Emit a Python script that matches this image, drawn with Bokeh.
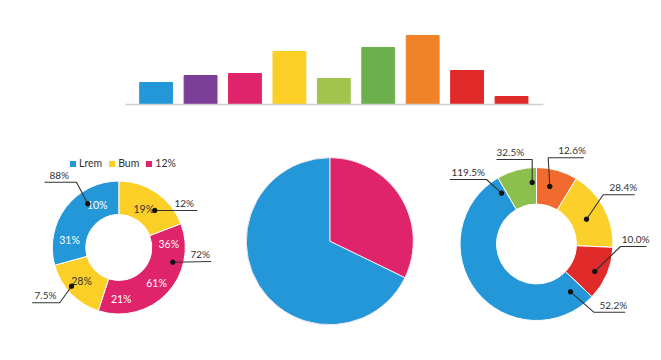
import numpy as np
from bokeh.plotting import figure
from bokeh.models import Range1d, ColumnDataSource, Legend, LegendItem, FixedTicker
from bokeh.layouts import column, row
from bokeh.embed import file_html
from bokeh.resources import INLINE
from bokeh.core.properties import value

# ---------------- data ----------------
bar_positions = [1, 2, 3, 4, 5, 6, 7, 8, 9]
bar_values = [22, 29, 31, 53, 26, 57, 69, 34, 8]
bar_colors = ["#2397d8", "#7c3f98", "#e0246b", "#fccf26", "#a3c44c",
              "#6cb04d", "#f0832a", "#e02a2a", "#e02a2a"]

BLUE, PINK, YELLOW = "#2397d8", "#e0246b", "#fccf26"

left_shares = [19.2, 35.8, 15.7, 29.3]
left_colors = [YELLOW, PINK, YELLOW, BLUE]
left_legend_labels = ["Lrem", "Bum", "12%"]
left_legend_slices = [3, 0, 1]
left_inner_labels = ["10%", "31%", "19%", "36%", "61%", "21%", "28%"]
left_inner_dx = [-21.6, -49.3, 25.0, 50.0, 37.7, 2.4, -37.3]
left_inner_dy = [42.7, 7.7, 38.7, 3.7, -35.7, -51.3, -33.0]
left_inner_colors = ["white", "white", "#333333", "white", "white", "white", "#333333"]
left_callout_labels = ["88%", "12%", "72%", "7.5%"]
left_callout_xs = [[-31, -42.3, -74.3], [36, 78.4], [54, 92.4], [-47.3, -59, -86.6]]
left_callout_ys = [[43.7, 65.3, 65.3], [37, 37], [-14.7, -14.0], [-38.7, -55.3, -55.3]]
left_callout_tx = [-69.3, 55.7, 71.7, -84.3]
left_callout_ty = [66.8, 38.5, -12.5, -53.8]

mid_shares = [32.2, 67.8]
mid_colors = [PINK, BLUE]

right_shares = [8.7, 17.0, 11.4, 54.5, 8.4]
right_colors = ["#f26a2e", "#fcd02b", "#e12a2a", "#2397d8", "#8cbf4d"]
right_callout_labels = ["12.6%", "32.5%", "119.5%", "28.4%", "10.0%", "52.2%"]
right_callout_xs = [[13.3, 11.7, 47.3], [-4.3, -4.3, -40], [-35, -50, -86.7],
                    [50, 66.7, 98.3], [58.3, 84, 110], [34, 57.3, 88.7]]
right_callout_ys = [[57.5, 86.2, 86.2], [61.5, 84.5, 84.5], [50.8, 64.5, 64.5],
                    [24.8, 49.2, 49.2], [-27.5, -2.5, -2.5], [-47.8, -68.2, -68.2]]
right_callout_tx = [21.7, -40, -85, 73, 85.3, 63]
right_callout_ty = [87.7, 86.0, 66.0, 50.7, -1.0, -66.7]

FONT = value("Lato")
FS = "10px"
INK = "#333333"


def wedge_angles(shares):
    s = np.asarray(shares, float)
    end = np.cumsum(s) / s.sum()
    start = np.concatenate([[0.0], end[:-1]])
    return np.pi / 2 - 2 * np.pi * start, np.pi / 2 - 2 * np.pi * end


def blank(width, height):
    p = figure(width=width, height=height, x_range=Range1d(0, width),
               y_range=Range1d(0, height), min_border=0, toolbar_location=None,
               output_backend="svg")
    p.axis.visible = False
    p.grid.visible = False
    p.outline_line_color = None
    return p


def callouts(p, cx, cy, labels, xs, ys, tx, ty):
    mx = [[cx + v for v in line] for line in xs]
    my = [[cy + v for v in line] for line in ys]
    p.multi_line(mx, my, line_color=INK, line_width=1.1)
    p.scatter([line[0] for line in mx], [line[0] for line in my], size=4.5,
              color="#111111")
    p.text([cx + v for v in tx], [cy + v for v in ty], text=labels,
           text_font=FONT, text_font_size=FS, text_color=INK,
           text_align="left", text_baseline="bottom")


# ---------------- top bar chart ----------------
top = figure(width=661, height=130, x_range=Range1d(0.31, 9.72),
             y_range=Range1d(0, 74), min_border_left=125, min_border_right=118,
             min_border_top=30, min_border_bottom=26, toolbar_location=None,
             output_backend="svg")
top.vbar(x=bar_positions, top=bar_values, width=0.74, color=bar_colors)
top.yaxis.visible = False
top.grid.visible = False
top.outline_line_color = None
top.xaxis.ticker = FixedTicker(ticks=[])
top.xaxis.axis_line_color = "#cfcfcf"
top.xaxis.axis_line_width = 1.5
top.xaxis.major_tick_line_color = None
top.xaxis.minor_tick_line_color = None

# ---------------- left donut ----------------
left = blank(232, 230)
lcx, lcy = 118.3, 113.0
ls, le = wedge_angles(left_shares)
lsrc = ColumnDataSource(dict(start=ls, end=le, color=left_colors))
lr = left.annular_wedge(x=lcx, y=lcy, inner_radius=33, outer_radius=66.5,
                        start_angle="start", end_angle="end", direction="clock",
                        fill_color="color", line_color="white", line_width=1,
                        source=lsrc)
left.text([lcx + v for v in left_inner_dx], [lcy + v for v in left_inner_dy],
          text=left_inner_labels, text_color=left_inner_colors, text_font=FONT,
          text_font_size="10.5px", text_align="center", text_baseline="middle")
callouts(left, lcx, lcy, left_callout_labels, left_callout_xs, left_callout_ys,
         left_callout_tx, left_callout_ty)
legend = Legend(items=[LegendItem(label=lab, renderers=[lr], index=i)
                       for lab, i in zip(left_legend_labels, left_legend_slices)],
                orientation="horizontal", location=(68, 191),
                glyph_width=9, glyph_height=9, label_standoff=2, spacing=5,
                padding=0, margin=0, label_height=9,
                label_text_font="Lato", label_text_font_size="10.5px",
                label_text_color=INK, border_line_color=None,
                background_fill_alpha=0)
left.add_layout(legend)

# ---------------- middle pie ----------------
mid = blank(198, 230)
ms, me = wedge_angles(mid_shares)
msrc = ColumnDataSource(dict(start=ms, end=me, color=mid_colors))
mid.wedge(x=97.3, y=119.3, radius=83.5, start_angle="start", end_angle="end",
          direction="clock", fill_color="color", line_color="#f4e6ee",
          line_width=1, source=msrc)

# ---------------- right donut ----------------
right = blank(231, 230)
rcx, rcy = 106.0, 116.5
rs, re_ = wedge_angles(right_shares)
rsrc = ColumnDataSource(dict(start=rs, end=re_, color=right_colors))
right.annular_wedge(x=rcx, y=rcy, inner_radius=40, outer_radius=76.5,
                    start_angle="start", end_angle="end", direction="clock",
                    fill_color="color", line_color="white", line_width=1,
                    source=rsrc)
callouts(right, rcx, rcy, right_callout_labels, right_callout_xs,
         right_callout_ys, right_callout_tx, right_callout_ty)

page = column(top, row(left, mid, right))
open("out.html", "w").write(file_html(page, INLINE))
